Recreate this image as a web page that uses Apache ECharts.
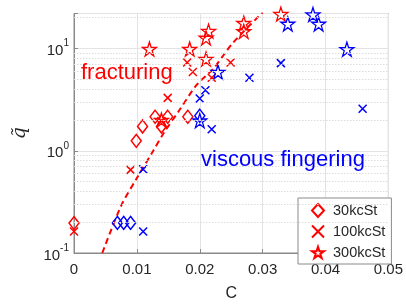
<!DOCTYPE html>
<html><head><meta charset="utf-8">
<script src="https://cdn.jsdelivr.net/npm/echarts@6/dist/echarts.min.js"></script>
<style>html,body{margin:0;padding:0;background:#fff}#c{width:406px;height:307px}</style>
</head><body><div id="c"></div>
<script>
// ---- data ----
const xTicks = [0, 0.01, 0.02, 0.03, 0.04, 0.05];
const yMin = 0.1, yMax = 22;
const minorTicks = [0.2,0.3,0.4,0.5,0.6,0.7,0.8,0.9,2,3,4,5,6,7,8,9,20];

// fracturing (red)
const red30C  = [0, 0.0099, 0.0109, 0.0129, 0.0139, 0.0149, 0.0181];
const red30Q  = [0.196, 1.25, 1.73, 2.15, 1.73, 2.15, 2.15];
const red100C = [0, 0.0090, 0.0139, 0.0149, 0.0180, 0.0189, 0.0219, 0.0249];
const red100Q = [0.162, 0.65, 1.95, 3.29, 7.3, 5.9, 5.18, 7.3];
const red300C = [0.0120, 0.0184, 0.0210, 0.0210, 0.0214, 0.0270, 0.0270, 0.0329, 0.0139];
const red300Q = [9.9, 9.9, 7.9, 12.7, 14.8, 14.7, 17.7, 21.7, 2.0];

// viscous fingering (blue)
const blue30C  = [0.0069, 0.0079, 0.0090, 0.0200];
const blue30Q  = [0.197, 0.197, 0.197, 2.2];
const blue100C = [0.0110, 0.0110, 0.0200, 0.0209, 0.0219, 0.0279, 0.0329, 0.0459];
const blue100Q = [0.66, 0.162, 3.25, 3.9, 1.62, 5.18, 7.2, 2.58];
const blue300C = [0.0200, 0.0229, 0.0340, 0.0380, 0.0389, 0.0434];
const blue300Q = [1.97, 5.9, 17.4, 21.5, 17.4, 9.85];

// dashed boundary line
const lineC = [0.0045, 0.0075, 0.0100, 0.0126, 0.0143, 0.0167, 0.0195, 0.0222, 0.0253, 0.0300];
const lineQ = [0.10, 0.29, 0.54, 1.0, 1.5, 2.46, 4.4, 6.4, 11.4, 22.5];

const legendNames = ['30kcSt', '100kcSt', '300kcSt'];

// ---- styling ----
const RED = '#ff0000', BLUE = '#0000ff';
const STAR = 'path://M0,-10L2.245,-3.09L9.511,-3.09L3.633,1.18L5.878,8.09L0,3.82L-5.878,8.09L-3.633,1.18L-9.511,-3.09L-2.245,-3.09Z';
const CROSS = 'path://M0,0L10,10M10,0L0,10';
const zip = (a, b) => a.map((v, i) => [v, b[i]]);

function sc(name, cs, qs, color, symbol, size, bw) {
  return {
    type: 'scatter', name, data: zip(cs, qs), symbol, symbolSize: size, z: 3,
    itemStyle: { color: 'rgba(0,0,0,0)', borderColor: color, borderWidth: bw, opacity: 1 },
    emphasis: { disabled: true }, clip: false
  };
}

const chart = echarts.init(document.getElementById('c'), null, { renderer: 'canvas' });
const fmtY = v => {
  const e = Math.log10(v);
  if (Math.abs(e - Math.round(e)) > 1e-6) return '';
  return '{b|10}{s|' + Math.round(e) + '}';
};
chart.setOption({
  animation: false,
  backgroundColor: '#fff',
  grid: { left: 74, right: 14, top: 13.5, bottom: 48, show: true, borderColor: '#8a8a8a', borderWidth: 1, backgroundColor: 'transparent' },
  xAxis: {
    type: 'value', min: xTicks[0], max: xTicks[xTicks.length - 1], interval: 0.01,
    name: 'C', nameLocation: 'middle', nameGap: 33,
    nameTextStyle: { fontFamily: 'Liberation Sans', fontSize: 16, color: '#262626' },
    axisLine: { lineStyle: { color: '#8a8a8a' } },
    axisTick: { inside: true, length: 4, lineStyle: { color: '#8a8a8a' } },
    axisLabel: { fontFamily: 'Liberation Sans', fontSize: 15, color: '#262626', margin: 9,
      formatter: v => String(+v.toFixed(2)) },
    splitLine: { show: true, lineStyle: { color: '#e3e3e3', width: 1 } }
  },
  yAxis: {
    type: 'log', min: yMin, max: yMax, logBase: 10,
    name: 'q\u0303', nameLocation: 'middle', nameGap: 44, nameRotate: 90,
    nameTextStyle: { fontFamily: 'DejaVu Serif', fontStyle: 'italic', fontSize: 19, color: '#262626' },
    axisLine: { lineStyle: { color: '#8a8a8a' } },
    axisTick: { inside: true, length: 4, lineStyle: { color: '#8a8a8a' } },
    axisLabel: { formatter: fmtY, margin: 5, color: '#262626',
      rich: {
        b: { fontFamily: 'Liberation Sans', fontSize: 15, color: '#262626', verticalAlign: 'bottom', lineHeight: 20 },
        s: { fontFamily: 'Liberation Sans', fontSize: 10, color: '#262626', verticalAlign: 'top', lineHeight: 20 }
      } },
    splitLine: { show: true, lineStyle: { color: '#e3e3e3', width: 1 } }
  },
  legend: {
    data: legendNames.map((n, i) => ({ name: n, icon: ['diamond', CROSS, STAR][i] })),
    orient: 'vertical', left: 298, top: 198,
    itemWidth: 12, itemHeight: 13, itemGap: 6,
    padding: [5, 6, 4, 13],
    backgroundColor: '#fff', borderColor: '#8a8a8a', borderWidth: 1, borderRadius: 0,
    textStyle: { fontFamily: 'Liberation Sans', fontSize: 14.5, color: '#262626', padding: [0, 0, 0, 4] },
    selectedMode: false
  },
  graphic: [
    { type: 'text', left: 81, top: 62, z: 10, style: { text: 'fracturing', fill: RED, font: '22px "Liberation Sans"' } },
    { type: 'text', left: 201, top: 149, z: 10, style: { text: 'viscous fingering', fill: BLUE, font: '22px "Liberation Sans"' } }
  ],
  series: [
    {
      type: 'line', name: 'boundary', data: zip(lineC, lineQ), symbol: 'none', smooth: 0.3, z: 2,
      lineStyle: { color: RED, width: 2, type: [6, 4] }, emphasis: { disabled: true },
      markLine: {
        silent: true, symbol: ['none', 'none'], label: { show: false }, animation: false,
        lineStyle: { color: '#dcdcdc', type: [1.5, 1.5], width: 1 },
        data: minorTicks.map(v => ({ yAxis: v }))
      }
    },
    sc(legendNames[0], red30C, red30Q, RED, 'diamond', [10, 13], 1.5),
    sc(legendNames[1], red100C, red100Q, RED, CROSS, 8, 1.5),
    sc(legendNames[2], red300C, red300Q, RED, STAR, 14, 1.3),
    sc('30kcSt VF', blue30C, blue30Q, BLUE, 'diamond', [10, 13], 1.5),
    sc('100kcSt VF', blue100C, blue100Q, BLUE, CROSS, 8, 1.5),
    sc('300kcSt VF', blue300C, blue300Q, BLUE, STAR, 14, 1.3)
  ]
});
</script></body></html>
